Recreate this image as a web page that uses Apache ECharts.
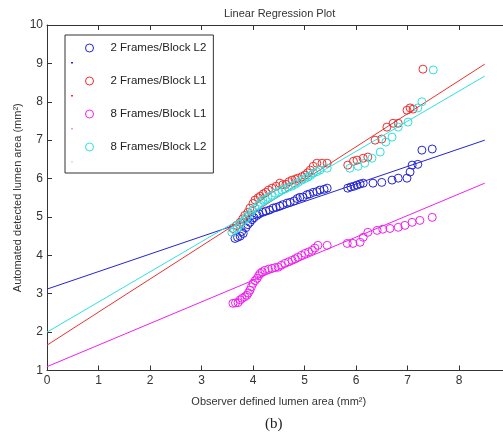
<!DOCTYPE html>
<html>
<head>
<meta charset="utf-8">
<script src="https://cdn.jsdelivr.net/npm/echarts@6/dist/echarts.min.js"></script>
<style>
html,body{margin:0;padding:0;background:#fff;}
#c{width:503px;height:442px;}
</style>
</head>
<body>
<div id="c"></div>
<script>
// ---- data ----
var seriesNames = ['2 Frames/Block L2', '2 Frames/Block L1', '8 Frames/Block L1', '8 Frames/Block L2'];
var xTicks = [0, 1, 2, 3, 4, 5, 6, 7, 8];
var yTicks = [1, 2, 3, 4, 5, 6, 7, 8, 9, 10];

var blueX = [3.65,3.70,3.75,3.78,3.81,3.86,3.90,3.94,3.98,4.02,4.08,4.12,4.19,4.25,4.32,4.39,4.45,4.52,4.58,4.66,4.72,4.80,4.86,4.91,4.97,5.05,5.10,5.17,5.24,5.30,5.38,5.44,5.84,5.90,5.96,6.02,6.08,6.14,6.33,6.50,6.70,6.82,6.99,7.05,7.09,7.20,7.28,7.48];
var blueY = [4.44,4.47,4.50,4.62,4.57,4.72,4.80,4.86,4.93,4.98,5.04,5.08,5.12,5.15,5.18,5.23,5.25,5.28,5.32,5.36,5.38,5.42,5.48,5.51,5.52,5.58,5.60,5.64,5.66,5.70,5.72,5.75,5.75,5.78,5.80,5.83,5.86,5.88,5.88,5.90,5.96,6.01,6.01,6.17,6.35,6.37,6.74,6.77];

var redX = [3.61,3.68,3.75,3.80,3.84,3.90,3.94,4.00,4.04,4.10,4.14,4.20,4.25,4.30,4.37,4.45,4.52,4.58,4.64,4.70,4.76,4.82,4.87,4.95,5.01,5.06,5.11,5.17,5.24,5.34,5.44,5.84,5.95,6.02,6.14,6.23,6.37,6.50,6.60,6.72,6.82,6.99,7.05,7.11,7.30];
var redY = [4.70,4.78,4.86,4.95,5.04,5.12,5.23,5.35,5.44,5.50,5.54,5.60,5.64,5.70,5.75,5.80,5.88,5.84,5.85,5.92,5.96,5.98,6.01,6.05,6.09,6.15,6.22,6.32,6.40,6.40,6.40,6.35,6.45,6.48,6.53,6.56,7.00,7.03,7.34,7.44,7.44,7.78,7.84,7.81,8.85];

var magX = [3.61,3.66,3.71,3.75,3.79,3.84,3.88,3.91,3.94,3.97,4.00,4.04,4.08,4.11,4.14,4.18,4.23,4.30,4.37,4.43,4.49,4.55,4.62,4.69,4.76,4.82,4.87,4.94,5.01,5.08,5.15,5.20,5.26,5.44,5.83,5.94,6.08,6.14,6.23,6.41,6.52,6.66,6.82,6.95,7.09,7.24,7.48];
var magY = [2.75,2.76,2.77,2.84,2.88,2.92,2.96,3.02,3.09,3.18,3.27,3.34,3.40,3.47,3.53,3.57,3.61,3.64,3.66,3.68,3.69,3.74,3.79,3.83,3.87,3.91,3.95,4.00,4.05,4.09,4.13,4.19,4.26,4.26,4.31,4.31,4.34,4.47,4.60,4.65,4.68,4.70,4.73,4.78,4.86,4.91,4.99];

var cyanX = [3.59,3.64,3.69,3.74,3.79,3.84,3.88,3.93,3.98,4.04,4.10,4.15,4.19,4.24,4.29,4.36,4.43,4.50,4.56,4.62,4.68,4.75,4.82,4.88,4.95,5.01,5.07,5.12,5.17,5.24,5.30,5.44,5.88,6.04,6.17,6.31,6.47,6.58,6.70,6.82,7.01,7.20,7.28,7.50];
var cyanY = [4.60,4.66,4.70,4.80,4.86,4.92,4.99,5.08,5.17,5.22,5.30,5.38,5.44,5.46,5.51,5.56,5.62,5.66,5.70,5.73,5.77,5.80,5.85,5.90,5.96,6.00,6.04,6.08,6.14,6.18,6.22,6.27,6.27,6.32,6.40,6.53,6.69,6.95,7.08,7.34,7.47,7.84,8.00,8.83];

// regression line end points
var fitX = [0, 8.5];
var fitBlue = [3.12, 7.0];
var fitRed = [1.66, 8.98];
var fitMag = [1.1, 5.88];
var fitCyan = [2.0, 8.67];

var colors = ['#2424d6', '#ee3030', '#f020f0', '#30e0e0'];

function zip(xs, ys) { return xs.map(function (x, i) { return [x, ys[i]]; }); }

function scatter(name, xs, ys, color, z) {
  return {
    name: name, type: 'scatter', data: zip(xs, ys),
    symbol: 'circle', symbolSize: 8, z: z,
    itemStyle: { color: 'rgba(255,255,255,0)', borderColor: color, borderWidth: 1, opacity: 1 },
    emphasis: { disabled: true }, animation: false
  };
}
function fit(ys, color, z) {
  return {
    type: 'line', data: zip(fitX, ys), showSymbol: false, symbol: 'none', z: z,
    lineStyle: { color: color, width: 1 }, animation: false, silent: true
  };
}

var chart = echarts.init(document.getElementById('c'), null, { renderer: 'canvas' });
var axisCol = '#333';
var option = {
  backgroundColor: '#fff',
  animation: false,
  title: [
    { text: 'Linear Regression Plot', left: 219, top: 3,
      textStyle: { fontSize: 11, fontWeight: 'normal', color: '#333', fontFamily: 'Liberation Sans, Arial, sans-serif' } },
    { text: '(b)', left: 260, top: 412,
      textStyle: { fontSize: 15, fontWeight: 'normal', color: '#222', fontFamily: 'Liberation Serif, Times New Roman, serif' } }
  ],
  legend: {
    orient: 'vertical', left: 65, top: 35,
    data: seriesNames.map(function (n, i) { return { name: n, icon: 'circle', itemStyle: { color: '#fff', borderColor: colors[i], borderWidth: 1 } }; }),
    itemWidth: 32, itemHeight: 8, itemGap: 21,
    padding: [7, 7, 20, 20],
    borderColor: '#333', borderWidth: 1, backgroundColor: '#fff',
    textStyle: { fontSize: 11.5, color: '#222', fontFamily: 'Liberation Sans, Arial, sans-serif' },
    selectedMode: false
  },
  grid: { left: 47, top: 25, width: 463.5, bottom: 71.5, containLabel: false, outerBoundsMode: 'none' },
  xAxis: [
    { type: 'value', min: 0, max: 9, interval: 1, position: 'bottom',
      name: 'Observer defined lumen area (mm²)', nameLocation: 'middle', nameGap: 26, nameMoveOverlap: false,
      nameTextStyle: { fontSize: 11, color: '#333', fontFamily: 'Liberation Sans, Arial, sans-serif' },
      axisLine: { show: true, onZero: false, lineStyle: { color: axisCol, width: 1 } },
      axisTick: { show: true, inside: true, length: 5, lineStyle: { color: axisCol } },
      axisLabel: { show: true, fontSize: 12, color: '#333', margin: 4, fontFamily: 'Liberation Sans, Arial, sans-serif',
        formatter: function (v) { return xTicks.indexOf(v) >= 0 ? String(v) : ''; } },
      splitLine: { show: false } },
    { type: 'value', min: 0, max: 9, interval: 1, position: 'top',
      axisLine: { show: true, onZero: false, lineStyle: { color: axisCol, width: 1 } },
      axisTick: { show: true, inside: true, length: 5, lineStyle: { color: axisCol } },
      axisLabel: { show: false }, splitLine: { show: false } }
  ],
  yAxis: [
    { type: 'value', min: 1, max: 10, interval: 1, position: 'left',
      name: 'Automated detected lumen area (mm²)', nameLocation: 'middle', nameGap: 24, nameMoveOverlap: false,
      nameTextStyle: { fontSize: 11, color: '#333', fontFamily: 'Liberation Sans, Arial, sans-serif' },
      axisLine: { show: true, onZero: false, lineStyle: { color: axisCol, width: 1 } },
      axisTick: { show: true, inside: true, length: 5, lineStyle: { color: axisCol } },
      axisLabel: { show: true, fontSize: 12, color: '#333', margin: 4, fontFamily: 'Liberation Sans, Arial, sans-serif',
        formatter: function (v) { return yTicks.indexOf(v) >= 0 ? String(v) : ''; } },
      splitLine: { show: false } }
  ],
  graphic: [
    { type: 'rect', shape: { x: 71, y: 62, width: 2, height: 1.5 }, style: { fill: colors[0] }, z: 100 },
    { type: 'rect', shape: { x: 71, y: 95, width: 2, height: 1.5 }, style: { fill: colors[1] }, z: 100 },
    { type: 'rect', shape: { x: 71, y: 128, width: 2, height: 1.5 }, style: { fill: '#e0a0e0' }, z: 100 },
    { type: 'rect', shape: { x: 71, y: 161, width: 2, height: 1.5 }, style: { fill: '#d8d8e8' }, z: 100 }
  ],
  series: [
    scatter(seriesNames[0], blueX, blueY, colors[0], 2),
    fit(fitBlue, colors[0], 3),
    scatter(seriesNames[1], redX, redY, colors[1], 4),
    fit(fitRed, colors[1], 5),
    scatter(seriesNames[2], magX, magY, colors[2], 6),
    fit(fitMag, colors[2], 7),
    scatter(seriesNames[3], cyanX, cyanY, colors[3], 8),
    fit(fitCyan, colors[3], 9)
  ]
};
chart.setOption(option);
</script>
</body>
</html>
